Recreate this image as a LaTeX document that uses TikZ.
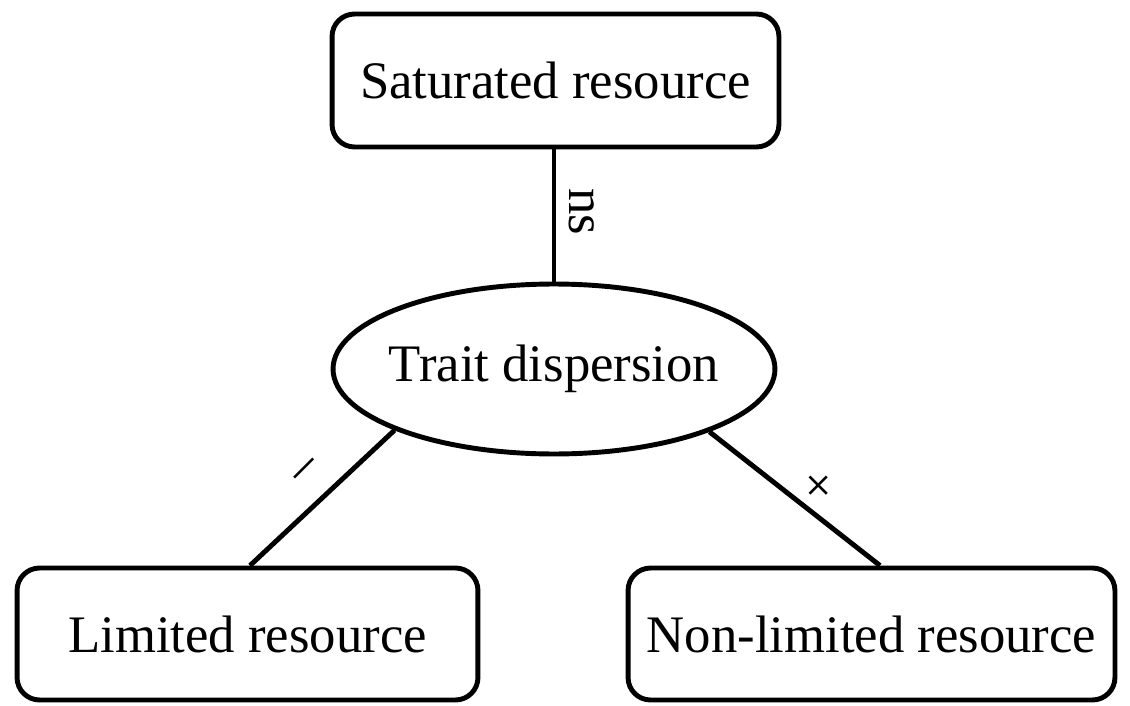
\documentclass[tikz,border=0pt]{standalone}
\usepackage{fontspec}
\setmainfont{Liberation Serif}
\usetikzlibrary{shapes.geometric,calc}
\begin{document}
\begin{tikzpicture}[x=0.02cm,y=-0.02cm,
  box/.style={draw,line width=2.8pt,rounded corners=0.45cm,inner sep=0pt,font=\fontsize{30}{36}\selectfont},
  ell/.style={draw,ellipse,line width=2.8pt,inner sep=0pt},
  conn/.style={line width=2.8pt},
  lbl/.style={inner sep=0pt,font=\fontsize{30}{36}\selectfont}]
\useasboundingbox (0,0) rectangle (1130,706);
\node[box,minimum width=8.94cm,minimum height=2.66cm] (top) at (555.5,80.5) {Saturated resource};
\node[ell,minimum width=8.84cm,minimum height=3.4cm] (el) at (554,369) {};
\node[lbl] (eltext) at (el.center) {Trait dispersion};
\node[box,minimum width=9.22cm,minimum height=2.64cm] (lb) at (247.5,634) {Limited resource};
\node[box,minimum width=9.74cm,minimum height=2.64cm] (rb) at (871.5,634) {Non-limited resource};
\draw[conn] (top.south -| el.north) -- (el.north);
\draw[conn] (el.201) -- ($(lb.north)+(2.5,0)$);
\draw[conn] (el.338) -- ($(rb.north)+(8.5,0)$);
\node[lbl,rotate=-90] (ns) at (582,212) {ns};
\node[lbl,rotate=45] (minus) at (308,472) {\textendash};
\node[lbl,rotate=45] (plus) at (820,487) {+};
\end{tikzpicture}
\end{document}
